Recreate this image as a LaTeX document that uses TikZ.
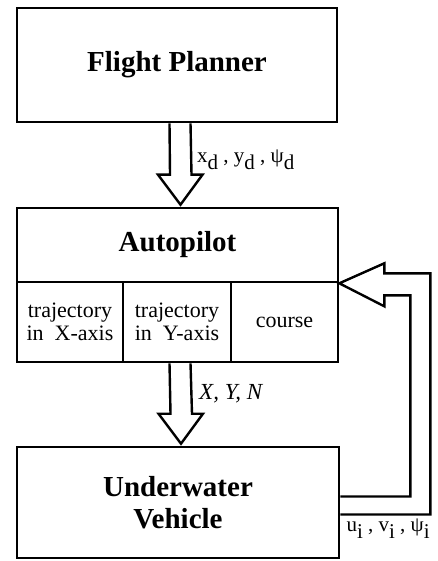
\documentclass[tikz,border=0pt]{standalone}
\usepackage{fontspec}
\setmainfont{Liberation Serif}
\usetikzlibrary{calc}
% lowered subscript
\newcommand{\lo}[1]{\raisebox{-7pt}{#1}}

\begin{document}
\begin{tikzpicture}[x=1pt,y=-1pt,
  box/.style={draw,black,line width=2.6pt,inner sep=0pt},
  title/.style={font=\fontsize{29}{32}\selectfont\bfseries,align=center},
  cell/.style={box,minimum height=80pt,align=center,font=\fontsize{22}{23}\selectfont},
  lbl/.style={inner sep=0pt,anchor=base west,font=\fontsize{21}{23}\selectfont},
  hollow/.style={draw,black,line width=2.4pt}]
\useasboundingbox (0,0) rectangle (438,561);

% blocks
\node[box,title,minimum width=320pt,minimum height=114pt] (plan) at (177,65) {Flight Planner};
\node[box,title,minimum width=321pt,minimum height=74pt] (auto) at (177.5,245) {Autopilot};
\node[cell,minimum width=106pt] (trajX) at (70,322) {trajectory\\in~ X-axis};
\node[cell,minimum width=108pt] (trajY) at (177,322) {trajectory\\in~ Y-axis};
\node[cell,minimum width=107pt] (course) at (284.5,322) {course};
\node[box,title,minimum width=322pt,minimum height=111pt] (veh) at (178,502.5) {Underwater\\Vehicle};

% planner -> autopilot
\draw[hollow] ($(plan.south)+(-7.5,0)$) -- ($(auto.north)+(-7.5,-32)$) -- ++(-12,0)
  -- ($(auto.north)+(3,-2)$) -- ($(auto.north)+(25,-32)$) -- ++(-11,0) -- ($(plan.south)+(13.5,0)$);
\node[lbl] (ref) at ($(plan.south)+(20,39)$) {x\lo{d} , y\lo{d} , ψ\lo{d}};

% autopilot -> vehicle
\draw[hollow] ($(trajY.south)+(-7.5,0)$) -- ($(veh.north)+(-7.5,-32)$) -- ++(-12,0)
  -- ($(veh.north)+(3,-2)$) -- ($(veh.north)+(25,-32)$) -- ++(-11,0) -- ($(trajY.south)+(13.5,0)$);
\node[lbl,font=\fontsize{23}{25}\selectfont\itshape] (force) at ($(trajY.south)+(22,36)$) {X, Y, N};

% feedback
\draw[hollow] ($(veh.east)+(0,-6)$) -| ($(auto.south east)+(71,12)$) -- ++(-26,0) -- ++(0,11)
  -- (auto.south east) -- ++(45,-20) -- ++(0,10) -- ++(46,0) |- ($(veh.east)+(0,12)$);
\node[lbl] (meas) at ($(veh.east)+(6,29)$) {u\lo{i} , v\lo{i} , ψ\lo{i}};
\end{tikzpicture}
\end{document}
